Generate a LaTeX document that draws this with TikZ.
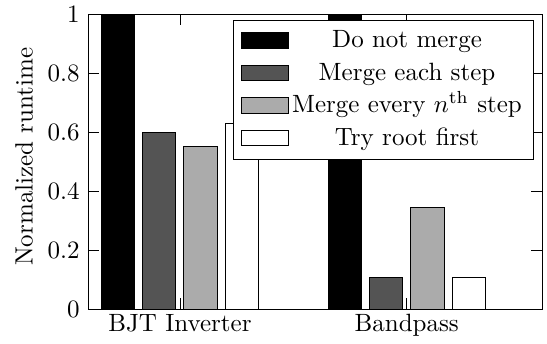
\documentclass[tikz,border=0pt]{standalone}
\usepackage{amsmath}
\tikzset{
    bar_black/.style={draw=black, fill=black},
    bar_dark/.style={draw=black, fill=black!67},
    bar_light/.style={draw=black, fill=black!33},
    bar_white/.style={draw=black, fill=white},
    key_box/.style={rectangle, draw=black, minimum width=18.6pt, minimum height=6.2pt, inner sep=0pt},
    axis_frame/.style={draw=black, line width=0.4pt}
}

\begin{document}
\begin{tikzpicture}[x=0.4pt, y=0.4pt, line width=0.4pt]
    \useasboundingbox (0,0) rectangle (547,343);

    % bars
    \foreach \st/\lx/\bjt/\band in {bar_black/101/1/1, bar_dark/142.3/0.6/0.107, bar_light/183.7/0.55/0.343, bar_white/225/0.63/0.107}{
        \draw[\st] (\lx,34) rectangle ({\lx+33.3},{34+295*\bjt});
        \draw[\st] ({\lx+227},34) rectangle ({\lx+260.3},{34+295*\band});
    }

    % axis
    \draw[axis_frame] (88,34) rectangle (542,329);
    \foreach \v in {0.2,0.4,0.6,0.8}{
        \draw (88,{34+295*\v}) -- (99,{34+295*\v});
        \draw (542,{34+295*\v}) -- (531,{34+295*\v});
    }
    \foreach \gx in {180,406.7}{
        \draw (\gx,34) -- (\gx,45);
        \draw (\gx,329) -- (\gx,318);
    }
    \foreach \v/\txt [count=\i] in {0/0, 0.2/0.2, 0.4/0.4, 0.6/0.6, 0.8/0.8, 1/1}
        \node (ytick\i) [anchor=east, inner sep=0pt] at (80,{34+295*\v}) {$\txt$};
    \node (ylabel) [rotate=90, inner sep=0pt] at (24,186.3) {Normalized runtime};
    \node (bjt) [anchor=base, inner sep=0pt] at (180,12) {BJT Inverter};
    \node (bandpass) [anchor=base, inner sep=0pt] at (406.7,12) {Bandpass};

    % legend
    \draw[fill=white] (233.3,322.3) rectangle (533.3,183.7);
    \node (key1) [key_box, fill=black] at (265,302.3) {};
    \node (key2) [key_box, fill=black!67] at (265,269.8) {};
    \node (key3) [key_box, fill=black!33] at (265,237.3) {};
    \node (key4) [key_box, fill=white] at (265,204.8) {};
    \node (leg1) [anchor=base, inner sep=0pt] at (407,295.3) {Do not merge};
    \node (leg2) [anchor=base, inner sep=0pt] at (407,262.8) {Merge each step};
    \node (leg3) [anchor=base, inner sep=0pt] at (407,230.3) {Merge every $n^{\text{th}}$ step};
    \node (leg4) [anchor=base, inner sep=0pt] at (407,197.8) {Try root first};
\end{tikzpicture}
\end{document}
